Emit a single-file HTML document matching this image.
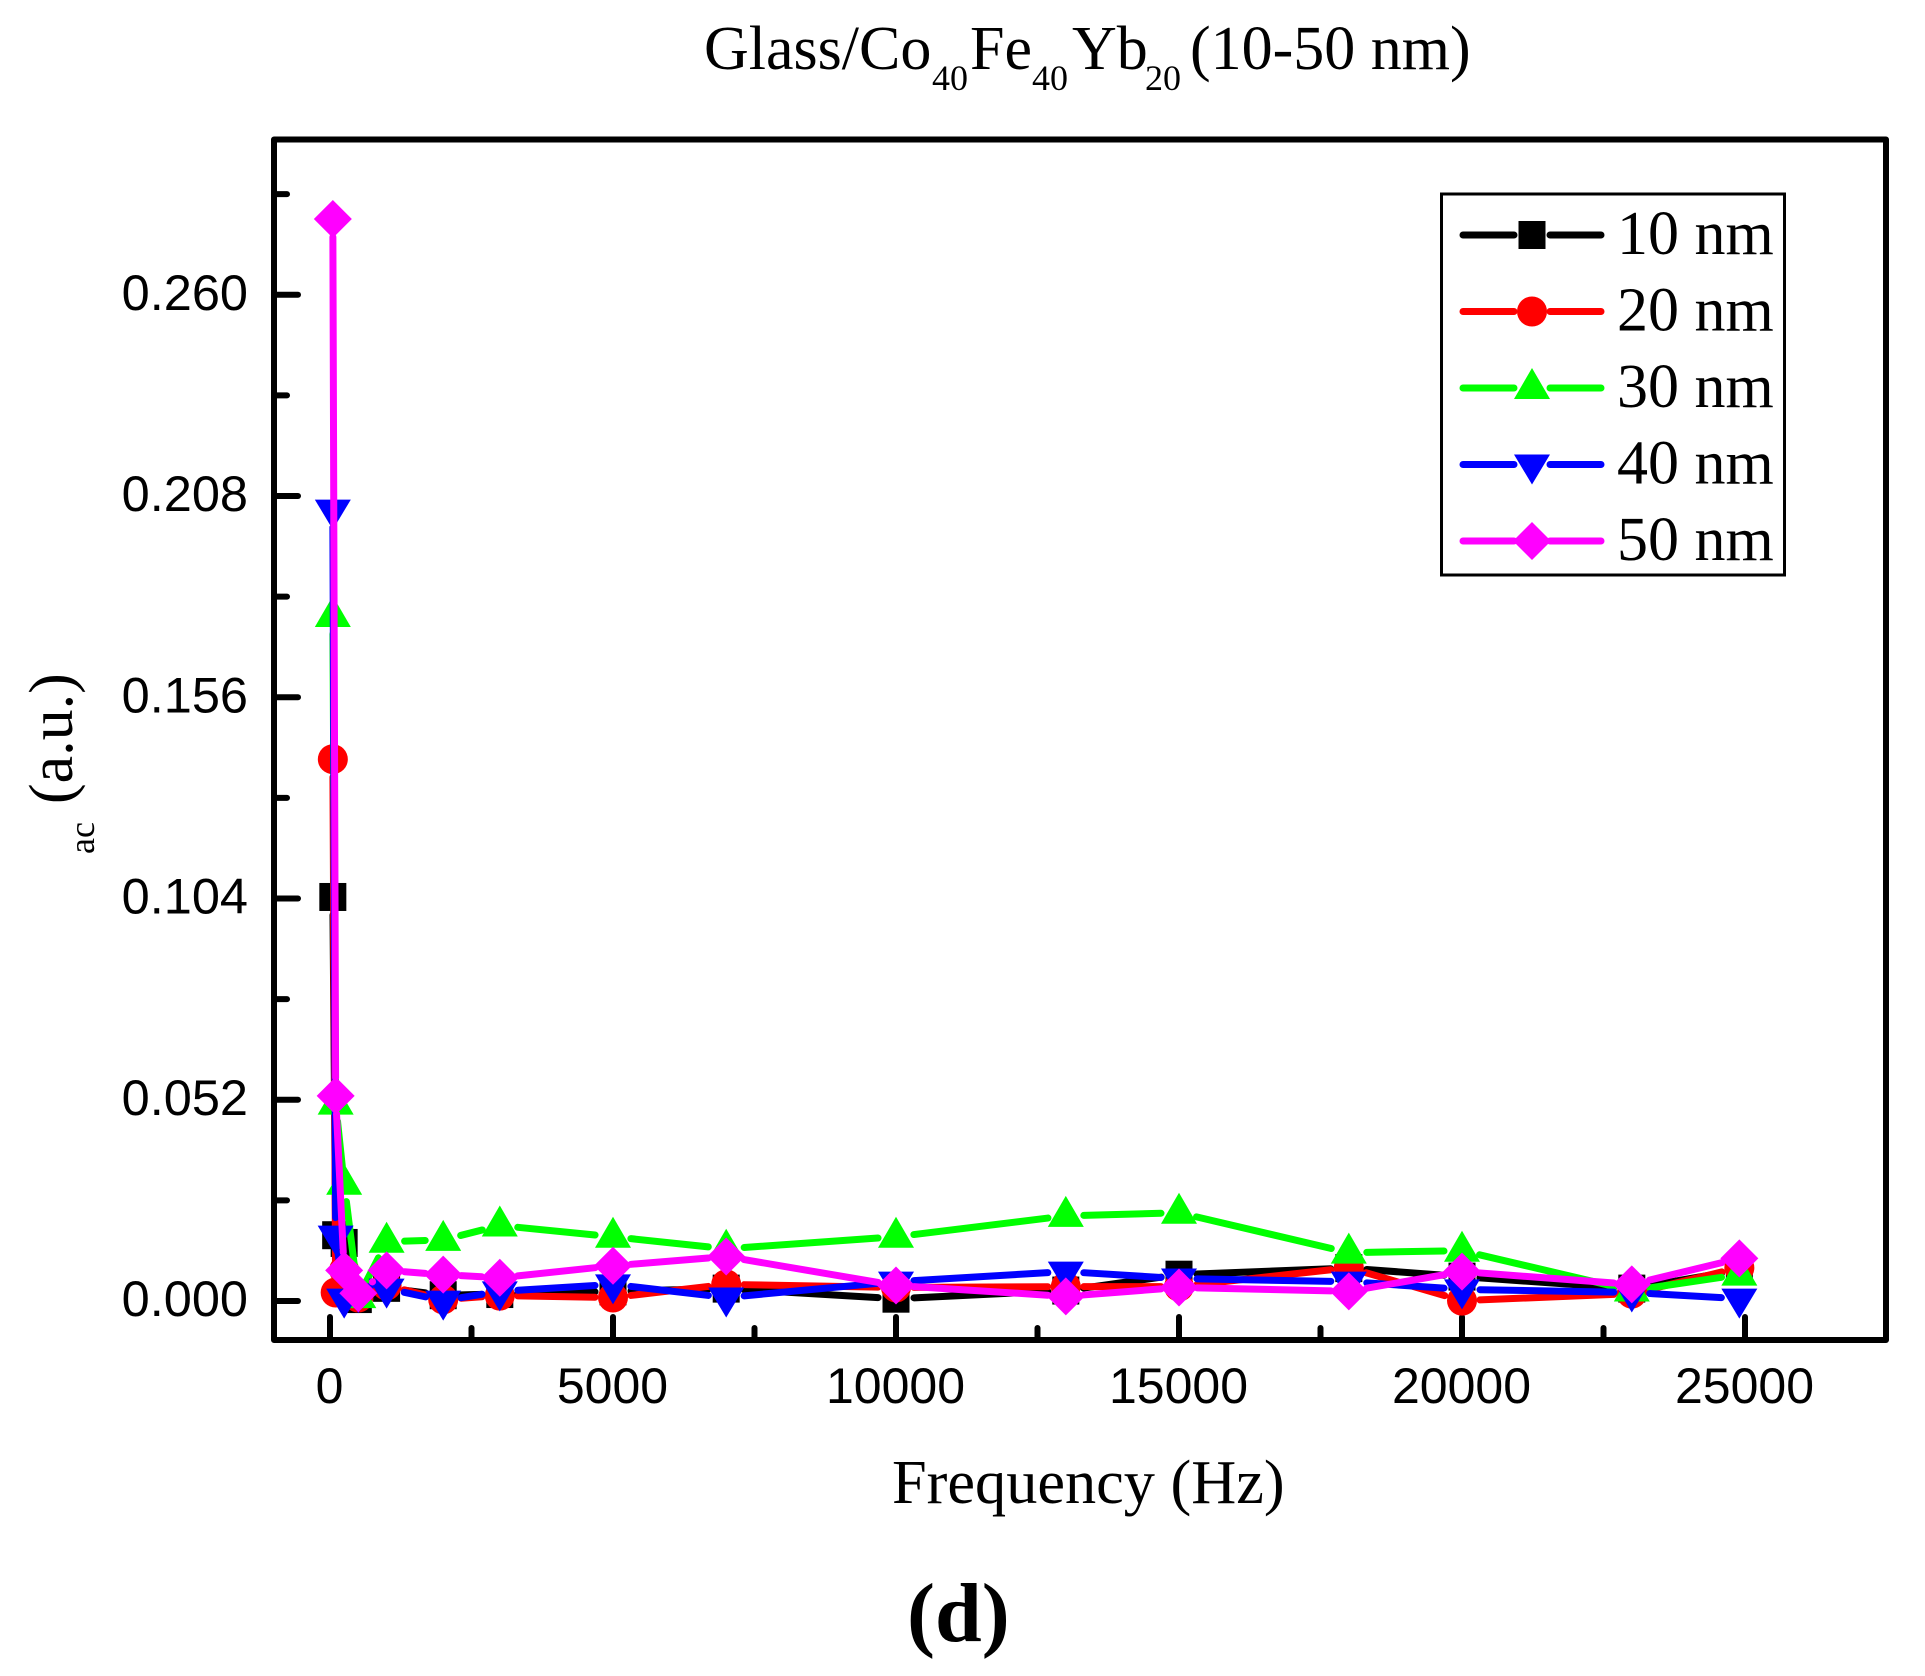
<!DOCTYPE html>
<html lang="en">
<head>
<meta charset="utf-8">
<title>Glass/Co40Fe40Yb20 (10-50 nm) frequency chart</title>
<style>
html,body{margin:0;padding:0;background:#fff;width:1925px;height:1676px;overflow:hidden}
svg{display:block}
.sans{font-family:"Liberation Sans",Arial,sans-serif;font-size:50px;fill:#000}
.serif{font-family:"Liberation Serif","Times New Roman",serif;fill:#000}
</style>
</head>
<body>
<svg id="chart" xmlns="http://www.w3.org/2000/svg" width="1925" height="1676" viewBox="0 0 1925 1676">
  <rect x="0" y="0" width="1925" height="1676" fill="#fff"/>
  <g class="serif" font-size="62">
    <text x="704" y="69">Glass/Co</text>
    <text x="932" y="90" font-size="36">40</text>
    <text x="970" y="69">Fe</text>
    <text x="1032" y="90" font-size="36">40</text>
    <text x="1072" y="69">Yb</text>
    <text x="1145" y="90" font-size="36">20</text>
    <text x="1190" y="69">(10-50 nm)</text>
  </g>
  <g id="ticks"></g>
  <g id="series"></g>
  <rect x="274" y="139.5" width="1612" height="1200.5" fill="none" stroke="#000" stroke-width="6" stroke-linejoin="round"/>
  <g id="labels"></g>
  <text class="serif" x="892" y="1503" font-size="62.3">Frequency (Hz)</text>
  <g class="serif">
    <text transform="translate(72 804) rotate(-90)" font-size="62">(a.u.)</text>
    <text transform="translate(94 854) rotate(-90)" font-size="36">ac</text>
  </g>
  <text class="serif" x="907" y="1641" font-size="84" font-weight="bold">(d)</text>
  <g id="legend">
    <rect x="1441.5" y="194" width="343" height="381" fill="#fff" stroke="#000" stroke-width="3"/>
  </g>
</svg>
<script>
const frequencies = [50, 100, 250, 500, 1000, 2000, 3000, 5000, 7000, 10000, 13000, 15000, 18000, 20000, 23000, 24900];
const values10nm = [0.1044, 0.0170, 0.0150, 0.0005, 0.0034, 0.0015, 0.0018, 0.0025, 0.0032, 0.0006, 0.0027, 0.0068, 0.0085, 0.0063, 0.0032, 0.0080];
const values20nm = [0.1400, 0.0022, 0.0080, 0.0009, 0.0040, 0.0004, 0.0014, 0.0009, 0.0043, 0.0035, 0.0037, 0.0037, 0.0086, 0.0001, 0.0019, 0.0086];
const values30nm = [0.1770, 0.0510, 0.0303, 0.0010, 0.0153, 0.0158, 0.0195, 0.0166, 0.0135, 0.0166, 0.0220, 0.0228, 0.0125, 0.0130, 0.0027, 0.0068];
const values40nm = [0.2045, 0.0169, 0.0006, 0.0020, 0.0032, 0.0001, 0.0025, 0.0043, 0.0009, 0.0050, 0.0076, 0.0058, 0.0050, 0.0030, 0.0022, 0.0006];
const values50nm = [0.2796, 0.0530, 0.0079, 0.0020, 0.0079, 0.0068, 0.0060, 0.0091, 0.0115, 0.0040, 0.0012, 0.0035, 0.0025, 0.0076, 0.0043, 0.0110];
const seriesNames = ["10 nm", "20 nm", "30 nm", "40 nm", "50 nm"];
const seriesColors = ["#000000", "#ff0000", "#00ff00", "#0000ff", "#ff00ff"];
const seriesShapes = ["square", "circle", "up", "down", "diamond"];
const xTickValues = [0, 5000, 10000, 15000, 20000, 25000];
const xTickLabels = ["0", "5000", "10000", "15000", "20000", "25000"];
const xMinorValues = [2500, 7500, 12500, 17500, 22500];
const yTickValues = [0, 0.052, 0.104, 0.156, 0.208, 0.26];
const yTickLabels = ["0.000", "0.052", "0.104", "0.156", "0.208", "0.260"];
const yMinorValues = [0.026, 0.078, 0.13, 0.182, 0.234, 0.286];

const allSeries = [values10nm, values20nm, values30nm, values40nm, values50nm];
const NS = "http://www.w3.org/2000/svg";
function xScale(v) { return 330 + v * 0.0566; }
function yScale(v) { return 1301 - v * 3870; }

function make(tag, attrs, parent) {
  const el = document.createElementNS(NS, tag);
  for (const k in attrs) el.setAttribute(k, attrs[k]);
  parent.appendChild(el);
  return el;
}

function drawMarker(shape, cx, cy, color, parent) {
  let el;
  if (shape === "square") {
    el = make("rect", { x: cx - 13.5, y: cy - 14, width: 27, height: 28, fill: color }, parent);
  } else if (shape === "circle") {
    el = make("circle", { cx: cx, cy: cy, r: 15, fill: color }, parent);
  } else if (shape === "up") {
    el = make("polygon", { points: (cx) + "," + (cy - 20) + " " + (cx + 18) + "," + (cy + 11) + " " + (cx - 18) + "," + (cy + 11), fill: color }, parent);
  } else if (shape === "down") {
    el = make("polygon", { points: (cx) + "," + (cy + 20) + " " + (cx + 18) + "," + (cy - 10) + " " + (cx - 18) + "," + (cy - 10), fill: color }, parent);
  } else {
    el = make("polygon", { points: cx + "," + (cy - 19) + " " + (cx + 19) + "," + cy + " " + cx + "," + (cy + 19) + " " + (cx - 19) + "," + cy, fill: color }, parent);
  }
  return el;
}

function drawGapLine(x1, y1, x2, y2, color, parent) {
  const gap = 18;
  const dx = x2 - x1, dy = y2 - y1;
  const len = Math.hypot(dx, dy);
  if (len <= gap * 2) return null;
  const ux = dx / len, uy = dy / len;
  return make("line", {
    x1: x1 + ux * gap, y1: y1 + uy * gap,
    x2: x2 - ux * gap, y2: y2 - uy * gap,
    stroke: color, "stroke-width": 7, "stroke-linecap": "round"
  }, parent);
}

const ticksG = document.getElementById("ticks");
const labelsG = document.getElementById("labels");

xTickValues.forEach(function (v, i) {
  const t = make("line", { x1: xScale(v), x2: xScale(v), y1: 1340, y2: 1317, stroke: "#000", "stroke-width": 6, "stroke-linecap": "round" }, ticksG);
  
  
  const l = make("text", { x: xScale(v) - 0.5, y: 1403, "text-anchor": "middle", class: "sans" }, labelsG);
  l.textContent = xTickLabels[i];
  
  
});
xMinorValues.forEach(function (v) {
  const t = make("line", { x1: xScale(v), x2: xScale(v), y1: 1340, y2: 1328, stroke: "#000", "stroke-width": 6, "stroke-linecap": "round" }, ticksG);
  
  
});
yTickValues.forEach(function (v, i) {
  const t = make("line", { x1: 274, x2: 298, y1: yScale(v), y2: yScale(v), stroke: "#000", "stroke-width": 6, "stroke-linecap": "round" }, ticksG);
  
  
  const l = make("text", { x: 248, y: yScale(v) + 15, "text-anchor": "end", class: "sans", "font-size": 50.5, style: "font-size:50.5px" }, labelsG);
  l.textContent = yTickLabels[i];
  
  
});
yMinorValues.forEach(function (v) {
  const t = make("line", { x1: 274, x2: 287, y1: yScale(v), y2: yScale(v), stroke: "#000", "stroke-width": 6, "stroke-linecap": "round" }, ticksG);
  
  
});

const seriesG = document.getElementById("series");
allSeries.forEach(function (vals, s) {
  const g = make("g", {}, seriesG);
  
  
  for (let i = 0; i + 1 < vals.length; i++) {
    const seg = drawGapLine(xScale(frequencies[i]), yScale(vals[i]), xScale(frequencies[i + 1]), yScale(vals[i + 1]), seriesColors[s], g);
    if (seg) {
      
      
    }
  }
  vals.forEach(function (v, i) {
    const m = drawMarker(seriesShapes[s], xScale(frequencies[i]), yScale(v), seriesColors[s], g);
    
    
  });
});

const legendG = document.getElementById("legend");
seriesNames.forEach(function (name, s) {
  const cy = 235 + s * 76.5;
  const g = make("g", {}, legendG);
  
  
  make("line", { x1: 1463, x2: 1514, y1: cy, y2: cy, stroke: seriesColors[s], "stroke-width": 7, "stroke-linecap": "round" }, g);
  make("line", { x1: 1550, x2: 1601, y1: cy, y2: cy, stroke: seriesColors[s], "stroke-width": 7, "stroke-linecap": "round" }, g);
  drawMarker(seriesShapes[s], 1532, cy, seriesColors[s], g);
  const t = make("text", { x: 1617, y: cy + 19, class: "serif", "font-size": 62 }, g);
  t.textContent = name;
});
</script>
</body>
</html>
